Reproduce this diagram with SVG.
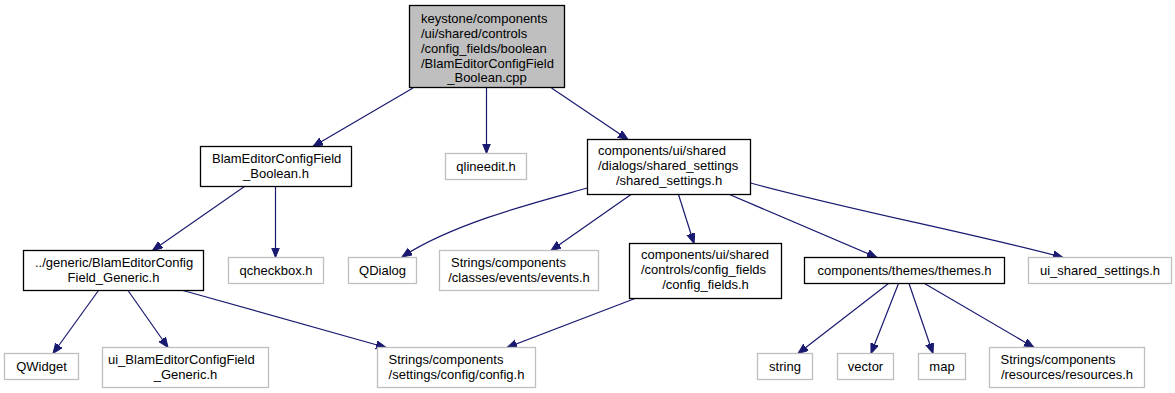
<svg xmlns="http://www.w3.org/2000/svg" width="1175" height="393" viewBox="0 0 1175 393">
<style>
  .n rect { fill: #ffffff; stroke: #000000; stroke-width: 1.3; }
  .u rect { fill: #ffffff; stroke: #bfbfbf; stroke-width: 1.3; }
  .root rect { fill: #bfbfbf; stroke: #000000; stroke-width: 1.3; }
  text { font-family: "Liberation Sans", Arial, sans-serif; font-size: 13px; fill: #000000; }
  .c { text-anchor: middle; }
  .e path { fill: none; stroke: #191970; stroke-width: 1.2; marker-end: url(#ah); }
</style>
<defs>
  <marker id="ah" markerUnits="userSpaceOnUse" markerWidth="11" markerHeight="9" refX="10" refY="4" orient="auto" viewBox="0 0 11 9">
    <path d="M0,0 L10,4 L0,8 z" fill="#191970" stroke="#191970" stroke-width="1"/>
  </marker>
</defs>
<rect x="0" y="0" width="1175" height="393" fill="#ffffff"/>
<g id="edges" class="e">
  <path d="M413,88 L313,146.5"/>
  <path d="M486.5,88 L486.5,153.5"/>
  <path d="M551.5,88 L628,139.5"/>
  <path d="M244.5,186.5 L152.5,250.5"/>
  <path d="M275.5,186.5 L275.5,257.5"/>
  <path d="M587.5,188 C545,200 455,222 402,257"/>
  <path d="M631,194.5 L551,250.5"/>
  <path d="M678.5,194.5 L694,243.5"/>
  <path d="M729.5,194.5 L877,257.5"/>
  <path d="M750.5,183 C850,210 980,235 1063,257.5"/>
  <path d="M98.5,290.5 L53,353.5"/>
  <path d="M128,290.5 L168,347.5"/>
  <path d="M183,290.5 L386,347.5"/>
  <path d="M635,298.5 L507,347.5"/>
  <path d="M888.5,283.5 L798,353.5"/>
  <path d="M898.5,283.5 L871,353.5"/>
  <path d="M909,283.5 L933,353.5"/>
  <path d="M924.5,283.5 L1034,347.5"/>
</g>
<g id="node_root" class="root">
  <rect x="409.5" y="5.5" width="155" height="82"/>
  <text x="421" y="22.5">keystone/components</text>
  <text x="421" y="37.5">/ui/shared/controls</text>
  <text x="421" y="52.5">/config_fields/boolean</text>
  <text x="421" y="67.5">/BlamEditorConfigField</text>
  <text x="487" y="82" class="c">_Boolean.cpp</text>
</g>
<g id="node_boolean_h" class="n">
  <rect x="200.5" y="146.5" width="151" height="40"/>
  <text x="212" y="162.5">BlamEditorConfigField</text>
  <text x="276" y="177.5" class="c">_Boolean.h</text>
</g>
<g id="node_qlineedit" class="u">
  <rect x="445.5" y="153.5" width="81" height="26"/>
  <text x="486" y="170.5" class="c">qlineedit.h</text>
</g>
<g id="node_shared_settings" class="n">
  <rect x="587.5" y="139.5" width="163" height="55"/>
  <text x="598" y="155">components/ui/shared</text>
  <text x="598" y="170">/dialogs/shared_settings</text>
  <text x="669" y="185" class="c">/shared_settings.h</text>
</g>
<g id="node_generic" class="n">
  <rect x="23.5" y="250.5" width="180" height="40"/>
  <text x="35" y="266.5">../generic/BlamEditorConfig</text>
  <text x="113.5" y="281.5" class="c">Field_Generic.h</text>
</g>
<g id="node_qcheckbox" class="u">
  <rect x="228.5" y="257.5" width="95" height="26"/>
  <text x="276" y="274.5" class="c">qcheckbox.h</text>
</g>
<g id="node_qdialog" class="u">
  <rect x="348.5" y="257.5" width="68" height="26"/>
  <text x="382.5" y="274.5" class="c">QDialog</text>
</g>
<g id="node_events" class="u">
  <rect x="439.5" y="250.5" width="159" height="40"/>
  <text x="451" y="266.5">Strings/components</text>
  <text x="519" y="281.5" class="c">/classes/events/events.h</text>
</g>
<g id="node_config_fields" class="n">
  <rect x="629.5" y="243.5" width="152" height="55"/>
  <text x="641" y="259">components/ui/shared</text>
  <text x="641" y="274">/controls/config_fields</text>
  <text x="705.5" y="289" class="c">/config_fields.h</text>
</g>
<g id="node_themes" class="n">
  <rect x="804.5" y="257.5" width="200" height="26"/>
  <text x="904.5" y="274.5" class="c">components/themes/themes.h</text>
</g>
<g id="node_ui_shared_settings" class="u">
  <rect x="1028.5" y="257.5" width="143" height="26"/>
  <text x="1100" y="274.5" class="c">ui_shared_settings.h</text>
</g>
<g id="node_qwidget" class="u">
  <rect x="4.5" y="353.5" width="74" height="26"/>
  <text x="41.5" y="370.5" class="c">QWidget</text>
</g>
<g id="node_ui_generic" class="u">
  <rect x="102.5" y="347.5" width="166" height="40"/>
  <text x="108" y="363.5">ui_BlamEditorConfigField</text>
  <text x="185.5" y="378.5" class="c">_Generic.h</text>
</g>
<g id="node_config" class="u">
  <rect x="377.5" y="347.5" width="158" height="40"/>
  <text x="388.5" y="363.5">Strings/components</text>
  <text x="456.5" y="378.5" class="c">/settings/config/config.h</text>
</g>
<g id="node_string" class="u">
  <rect x="757.5" y="353.5" width="55" height="26"/>
  <text x="785" y="370.5" class="c">string</text>
</g>
<g id="node_vector" class="u">
  <rect x="837.5" y="353.5" width="56" height="26"/>
  <text x="865.5" y="370.5" class="c">vector</text>
</g>
<g id="node_map" class="u">
  <rect x="918.5" y="353.5" width="47" height="26"/>
  <text x="942" y="370.5" class="c">map</text>
</g>
<g id="node_resources" class="u">
  <rect x="989.5" y="347.5" width="155" height="40"/>
  <text x="1000.5" y="363.5">Strings/components</text>
  <text x="1067" y="378.5" class="c">/resources/resources.h</text>
</g>
</svg>
